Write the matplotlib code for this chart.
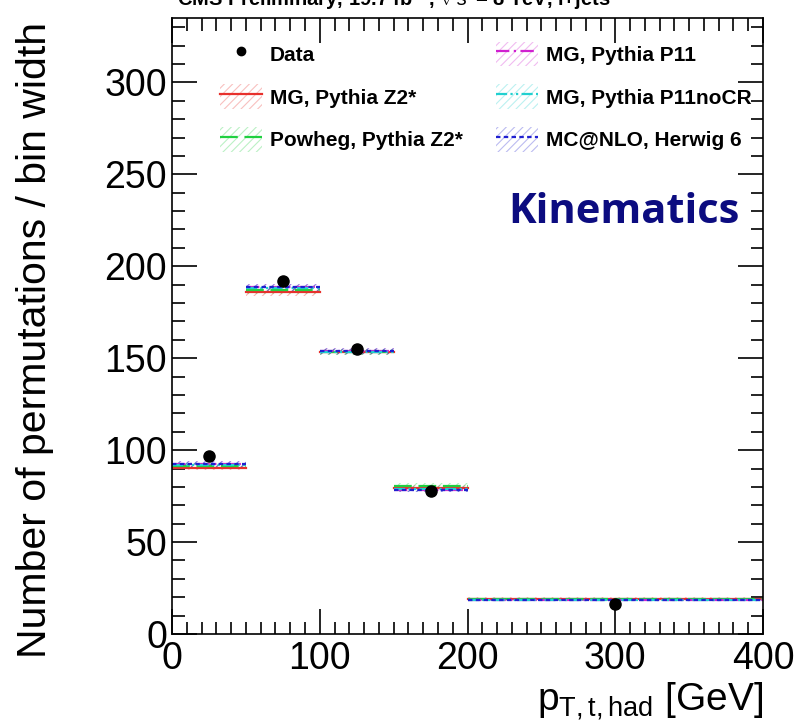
import numpy as np
import matplotlib
matplotlib.use("Agg")
import matplotlib.pyplot as plt
from matplotlib.patches import Patch
from matplotlib.lines import Line2D
from matplotlib.ticker import MultipleLocator

plt.rcParams["font.family"] = ["Liberation Sans", "DejaVu Sans"]
plt.rcParams["mathtext.fontset"] = "custom"
plt.rcParams["mathtext.rm"] = "Liberation Sans"
plt.rcParams["mathtext.it"] = "Liberation Sans:italic"
plt.rcParams["hatch.linewidth"] = 0.8

# binning and values
bin_edges = [0, 50, 100, 150, 200, 400]
data_x = [25, 75, 125, 175, 300]
data_y = [97.0, 192.0, 155.0, 78.0, 16.5]

mc_names = ["MG, Pythia Z2*", "Powheg, Pythia Z2*", "MG, Pythia P11",
            "MG, Pythia P11noCR", "MC@NLO, Herwig 6"]
mc_values = {
    "MG, Pythia Z2*":     [90.5, 186.0, 153.5, 79.5, 19.3],
    "Powheg, Pythia Z2*": [91.5, 187.0, 153.5, 80.5, 19.0],
    "MG, Pythia P11":     [92.5, 188.5, 154.0, 78.5, 18.6],
    "MG, Pythia P11noCR": [92.0, 188.0, 153.5, 78.8, 18.7],
    "MC@NLO, Herwig 6":   [92.5, 188.5, 154.0, 78.5, 18.5],
}
mc_unc = [1.5, 2.0, 1.5, 1.5, 0.6]
mc_colors = ["#e8302c", "#20d040", "#d020d0", "#20d0d0", "#2020d0"]
mc_styles = ["-", (0, (8, 3)), (0, (6, 2, 1, 2)), (0, (5, 1.5, 1, 1.5, 1, 1.5)), (0, (2, 1.5))]

fig = plt.figure(figsize=(7.99, 7.2), dpi=100)
ax = fig.add_axes([0.2153, 0.1194, 0.7397, 0.8556])

edges = np.array(bin_edges)
handles = {}
for name, col, ls in zip(mc_names, mc_colors, mc_styles):
    vals = np.array(mc_values[name])
    unc = np.array(mc_unc)
    for i in range(len(vals)):
        ax.fill_between([edges[i], edges[i + 1]], vals[i] - unc[i], vals[i] + unc[i],
                        facecolor="none", edgecolor=col, alpha=0.35, hatch="////", linewidth=0)
        ax.plot([edges[i], edges[i + 1]], [vals[i], vals[i]], color=col, ls=ls, lw=1.6)
    patch = Patch(facecolor="none", edgecolor=col, alpha=0.3, hatch="////", linewidth=0)
    line = Line2D([], [], color=col, ls=ls, lw=1.6)
    handles[name] = (patch, line)

ax.plot(data_x, data_y, "o", color="black", ms=8, zorder=10)
data_handle = Line2D([], [], marker="o", color="black", ls="none", ms=6)

ax.set_xlim(0, 400)
ax.set_ylim(0, 335)
ax.xaxis.set_major_locator(MultipleLocator(100))
ax.xaxis.set_minor_locator(MultipleLocator(10))
ax.yaxis.set_major_locator(MultipleLocator(50))
ax.yaxis.set_minor_locator(MultipleLocator(10))
ax.tick_params(which="both", direction="in", top=True, right=True, labelsize=27, width=1.2)
ax.tick_params(which="major", length=18)
ax.tick_params(which="minor", length=9)
ax.tick_params(axis="x", pad=5)
for s in ax.spines.values():
    s.set_linewidth(1.2)

ax.set_ylabel("Number of permutations / bin width", fontsize=29.5)
ax.yaxis.set_label_coords(-0.2, 0.477)
ax.set_xlabel(r"p$_{\mathrm{T,t,had}}$ [GeV]", fontsize=28, loc="right", labelpad=2)

leg_handles = [data_handle, handles[mc_names[0]], handles[mc_names[1]],
               handles[mc_names[2]], handles[mc_names[3]], handles[mc_names[4]]]
leg_labels = ["Data", mc_names[0], mc_names[1], mc_names[2], mc_names[3], mc_names[4]]
ax.legend(leg_handles, leg_labels, ncol=2, loc="upper left", bbox_to_anchor=(0.067, 0.975),
          borderaxespad=0, frameon=False, prop={"size": 15, "weight": "bold"},
          handlelength=2.0, handleheight=1.45, labelspacing=0.86, columnspacing=1.6,
          handletextpad=0.4)

ax.text(0.96, 0.685, "Kinematics", transform=ax.transAxes, ha="right", va="center",
        fontsize=30, fontweight="bold", color="#0c0c80", family=["Open Sans", "DejaVu Sans"])

fig.text(0.222, 1.0 - 6 / 720, r"CMS Preliminary, 19.7 fb$^{-1}$, $\sqrt{s}$ = 8 TeV, l+jets",
         fontsize=14.5, fontweight="bold", va="baseline", ha="left")

fig.savefig("out.png", dpi=100)
